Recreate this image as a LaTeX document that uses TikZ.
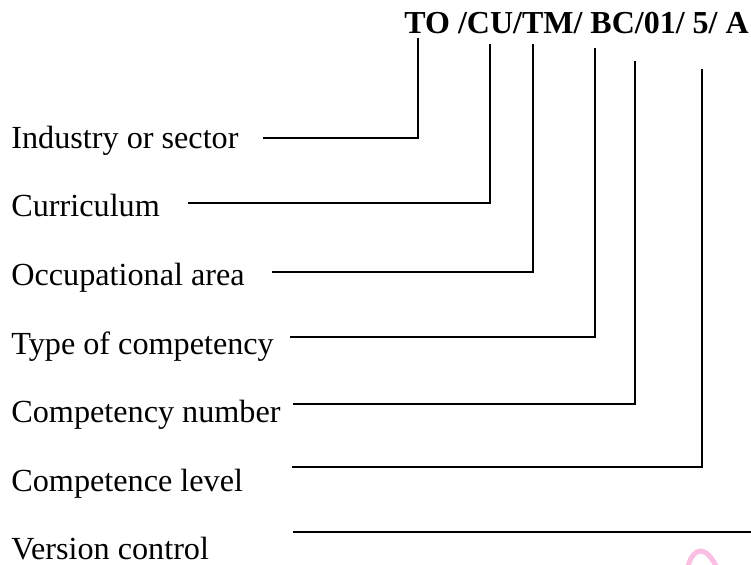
\documentclass[tikz,border=0pt]{standalone}
\usepackage{fontspec}
\setmainfont{Liberation Serif}
\usetikzlibrary{positioning,calc}

\tikzset{
  lab/.style={anchor=base west, inner sep=0pt, font=\fontsize{16.1}{19}\selectfont},
  codetext/.style={anchor=base west, inner sep=0pt, font=\fontsize{16}{19}\selectfont\bfseries},
  lead/.style={line width=1pt, black},
  pinkmark/.style={line width=2.5pt, color=magenta!25, line cap=round},
}

\begin{document}
\begin{tikzpicture}[x=0.5pt, y=-0.5pt]
    \useasboundingbox (0,0) rectangle (751,564);
    \node[codetext] (code) at (404,33) {TO /CU/TM/ BC/01/ 5/ A};
    % labels on the left
    \node[lab] (ind) at (11,148) {Industry or sector};
    \node[lab] (cur) at (11,216) {Curriculum};
    \node[lab] (occ) at (11,285) {Occupational area};
    \node[lab] (typ) at (11,354) {Type of competency};
    \node[lab] (num) at (11,422) {Competency number};
    \node[lab] (lev) at (11,491) {Competence level};
    \node[lab] (ver) at (11,559) {Version control};
    % where the leaders meet the code
    \coordinate (tTO) at (418,38);
    \coordinate (tCU) at (490,44);
    \coordinate (tTM) at (533,44);
    \coordinate (tBC) at (595,48);
    \coordinate (tNum) at (635,61);
    \coordinate (tLev) at (702,69);
    % where the leaders start
    \coordinate (sInd) at (263,138);
    \coordinate (sCur) at (188,203);
    \coordinate (sOcc) at (272,272);
    \coordinate (sTyp) at (290,337);
    \coordinate (sNum) at (293,404);
    \coordinate (sLev) at (292,467);
    \coordinate (sVer) at (293,532);
    \coordinate (eVer) at (751,532);
    \draw[lead] (sInd) -| (tTO);
    \draw[lead] (sCur) -| (tCU);
    \draw[lead] (sOcc) -| (tTM);
    \draw[lead] (sTyp) -| (tBC);
    \draw[lead] (sNum) -| (tNum);
    \draw[lead] (sLev) -| (tLev);
    \draw[lead] (sVer) -- (eVer); % no letter for the version
    \draw[pinkmark] (688,566) .. controls (694,546) and (706,546) .. (716,566);
\end{tikzpicture}
\end{document}
